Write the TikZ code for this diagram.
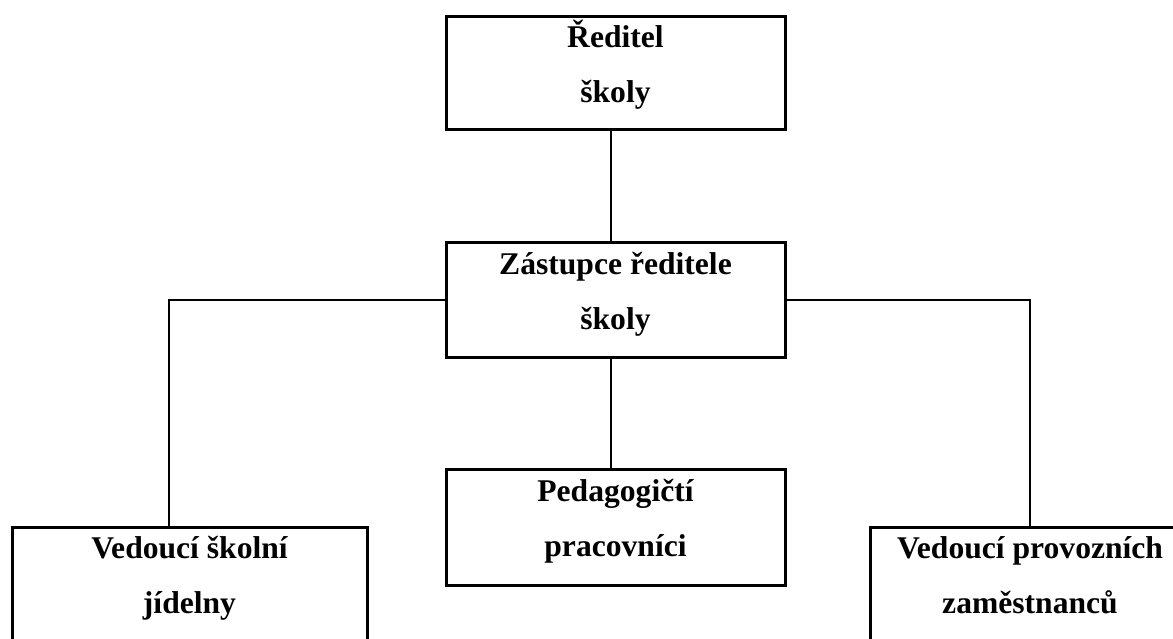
\documentclass[tikz,border=0pt]{standalone}
\usepackage{fontspec}
\setmainfont{Liberation Serif}
\newcommand{\boxlines}[2]{\smash{#1}\rule{0pt}{12pt}\\\smash{#2}\rule[-10pt]{0pt}{10pt}}
\begin{document}
\begin{tikzpicture}[x=0.5pt,y=-0.5pt,
  orgbox/.style={draw,line width=1.5pt,inner sep=0pt,align=center,
    font=\fontsize{15.8}{27.5}\selectfont\bfseries,minimum width=169.5pt},
  link/.style={line width=1pt}]
 \useasboundingbox (0,0) rectangle (1173,638);
 \clip (0,0) rectangle (1173,638);
 \node [orgbox,minimum height=56.5pt] (dir) at (615.5,72.5) {\boxlines{Ředitel}{školy}};
 \node [orgbox,minimum height=57.5pt] (zast) at (615.5,299.5) {\boxlines{Zástupce ředitele}{školy}};
 \node [orgbox,minimum height=58pt] (ped) at (615.5,527) {\boxlines{Pedagogičtí}{pracovníci}};
 \node [orgbox,minimum height=57pt,minimum width=177.5pt] (jid) at (189.5,584) {\boxlines{Vedoucí školní}{jídelny}};
 \node [orgbox,minimum height=57pt,minimum width=160pt] (prov) at (1030,584) {\boxlines{Vedoucí provozních}{zaměstnanců}};
 \draw [link] ([xshift=-2.25pt]dir.south) -- ([xshift=-2.25pt]zast.north);
 \draw [link] ([xshift=-2.25pt]zast.south) -- ([xshift=-2.25pt]ped.north);
 \draw [link] (zast.west) -| ([xshift=-10.25pt]jid.north);
 \draw [link] (zast.east) -| (prov.north);
\end{tikzpicture}
\end{document}
